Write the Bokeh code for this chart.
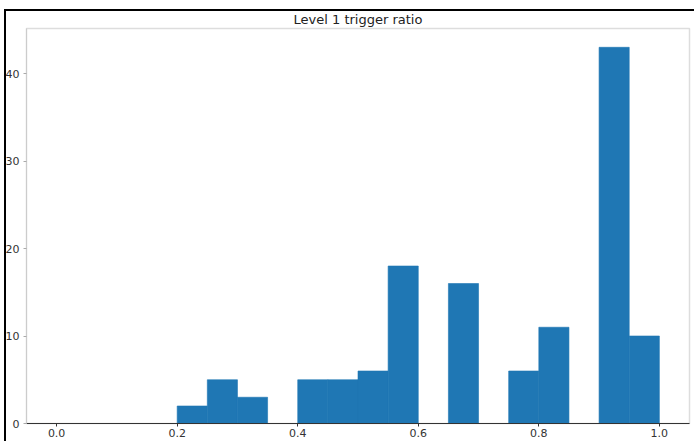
import numpy as np
from bokeh.plotting import figure
from bokeh.models import Range1d, FixedTicker, NumeralTickFormatter, ColumnDataSource, InlineStyleSheet
from bokeh.embed import file_html
from bokeh.resources import INLINE

title_text = "Level 1 trigger ratio"
bin_start = 0.0
bin_end = 1.0
n_bins = 20
counts = [0, 0, 0, 0, 2, 5, 3, 0, 5, 5, 6, 18, 0, 16, 0, 6, 11, 0, 43, 10]
x_ticks = [0.0, 0.2, 0.4, 0.6, 0.8, 1.0]
y_ticks = [0, 10, 20, 30, 40]

edges = np.linspace(bin_start, bin_end, n_bins + 1)
src = ColumnDataSource(dict(left=edges[:-1], right=edges[1:], top=counts, bottom=[0] * n_bins))

span = bin_end - bin_start
ymax = max(counts) * 1.05

p = figure(width=694, height=441, output_backend="svg", toolbar_location=None,
           x_range=Range1d(bin_start - 0.05 * span, bin_end + 0.05 * span),
           y_range=Range1d(0, ymax),
           min_border_left=26, min_border_right=5, min_border_top=28, min_border_bottom=18)
p.frame_width = 663
p.frame_height = 395

p.quad(left="left", right="right", top="top", bottom="bottom", source=src,
       fill_color="#1f77b4", line_color="#1f77b4", line_width=0.6)

p.title.text = title_text
p.title.align = "center"
p.title.text_font = "DejaVu Sans"
p.title.text_font_size = "13px"
p.title.text_font_style = "normal"
p.title.text_color = "#222222"
p.title.offset = 0
p.title.standoff = 4

p.xgrid.visible = False
p.ygrid.visible = False
p.outline_line_color = "#dddddd"
p.outline_line_width = 1.5
p.background_fill_color = "white"
p.border_fill_color = "white"

xa = p.xaxis[0]
xa.ticker = FixedTicker(ticks=x_ticks)
xa.formatter = NumeralTickFormatter(format="0.0")
xa.axis_line_color = "#333333"
xa.axis_line_width = 1.2
xa.major_tick_line_color = "#333333"
xa.major_tick_out = 3
xa.major_tick_in = 0
xa.minor_tick_line_color = None
xa.major_label_text_font = "DejaVu Sans"
xa.major_label_text_font_size = "11px"
xa.major_label_text_color = "#333333"
xa.major_label_standoff = 2

ya = p.yaxis[0]
ya.ticker = FixedTicker(ticks=y_ticks)
ya.axis_line_color = "#cccccc"
ya.major_tick_line_color = "#aaaaaa"
ya.major_tick_out = 3
ya.major_tick_in = 0
ya.minor_tick_line_color = None
ya.major_label_text_font = "DejaVu Sans"
ya.major_label_text_font_size = "11px"
ya.major_label_text_color = "#333333"
ya.major_label_standoff = 4

# outer black frame lines (top and left) of the original screenshot
p.stylesheets = [InlineStyleSheet(css="""
:host { position: relative; }
:host::after {
  content: "";
  position: absolute;
  left: 4px; top: 9px; right: 0px; bottom: 0px;
  border-left: 2px solid black;
  border-top: 2px solid black;
  pointer-events: none;
}
""")]

open("out.html", "w").write(file_html(p, INLINE))
